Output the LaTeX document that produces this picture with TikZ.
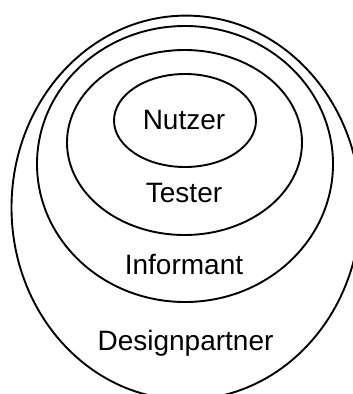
\documentclass[tikz,border=0pt]{standalone}
\usepackage{fontspec}
\setmainfont{Liberation Sans}
\begin{document}
\begin{tikzpicture}[x=1pt,y=-1pt,
  ring/.style={draw=black,line width=1.9pt},
  lbl/.style={anchor=base,inner sep=0pt,font=\fontsize{28}{30}\selectfont}]
\useasboundingbox (0,0) rectangle (353,394);
\clip (0,0) rectangle (353,394);
\draw[ring] (186,207.6) ellipse [x radius=174.5, y radius=192];
\draw[ring] (185,164) ellipse [x radius=148, y radius=138];
\draw[ring] (184.5,142.5) ellipse [x radius=117.5, y radius=92.5];
\draw[ring] (185,120.5) ellipse [x radius=71, y radius=46.5];
\node[lbl] (nutzer) at (184,129) {Nutzer};
\node[lbl] (tester) at (184,202) {Tester};
\node[lbl] (informant) at (184,274) {Informant};
\node[lbl] (designpartner) at (185.5,350) {Designpartner};
\end{tikzpicture}
\end{document}
